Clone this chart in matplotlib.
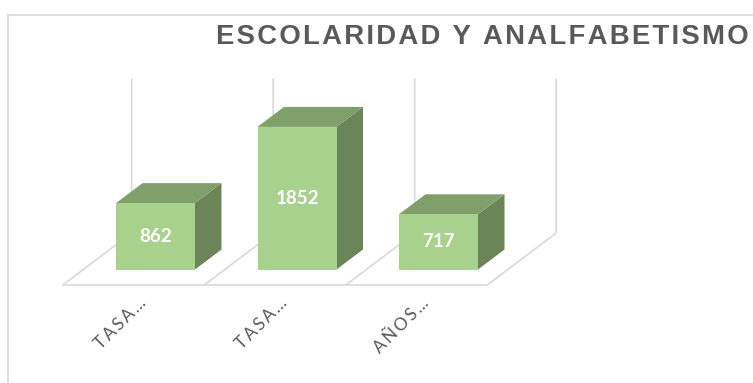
import matplotlib
matplotlib.use("Agg")
import matplotlib.pyplot as plt
from matplotlib.patches import Polygon

categories = ["TASA…", "TASA…", "AÑOS…"]
values = [862, 1852, 717]
y_max = 2000
title = "ESCOLARIDAD Y ANALFABETISMO"

W, H = 753, 383
LEFT, TOP = 8, 14.5  # chart frame position in pixels
X0_PX, STEP_PX = 155.5, 141.5  # first category centre, px per category
Y0_PX, VAL_PX = 269.5, 0.077  # baseline, px per value unit

# oblique projection: one bar depth moves this far in data units
DX = 26.5 / STEP_PX
DY = 20 / VAL_PX
BAR_W = 79 / STEP_PX
FLOOR_FRONT, FLOOR_BACK = -0.775, 1.825
HAIR = "\u200a"


def proj(x, v, d):
    return x + d * DX, v + d * DY


fig = plt.figure(figsize=(W / 100, H / 100), dpi=100)
ax = fig.add_axes([LEFT / W, 0, 1 - LEFT / W, 1 - TOP / H])
ax.set_xlim((LEFT - X0_PX) / STEP_PX, (W - X0_PX) / STEP_PX)
ax.set_ylim((Y0_PX - H) / VAL_PX, (Y0_PX - TOP) / VAL_PX)
ax.set_xticks([])
ax.set_yticks([])
for side in ["right", "bottom"]:
    ax.spines[side].set_visible(False)
for side in ["left", "top"]:
    ax.spines[side].set_color("#d9d9d9")
    ax.spines[side].set_linewidth(1.3)

# floor and back wall grid
grid = dict(color="#d9d9d9", lw=1.2, zorder=1, solid_capstyle="round")
n = len(values)
for b in [i - 0.51 for i in range(n + 1)]:
    x1, y1 = proj(b, 0, FLOOR_FRONT)
    x2, y2 = proj(b, 0, FLOOR_BACK)
    x3, y3 = proj(b, y_max, FLOOR_BACK)
    ax.plot([x1, x2, x3], [y1, y2, y3], **grid)
xa, ya = proj(-0.51, 0, FLOOR_FRONT)
xb, yb = proj(n - 0.51, 0, FLOOR_FRONT)
ax.plot([xa, xb], [ya, yb], **grid)

# bars
for i, v in enumerate(values):
    l, r = i - BAR_W / 2, i + BAR_W / 2
    front = [proj(l, 0, 0), proj(r, 0, 0), proj(r, v, 0), proj(l, v, 0)]
    top = [proj(l, v, 0), proj(r, v, 0), proj(r, v, 1), proj(l, v, 1)]
    side = [proj(r, 0, 0), proj(r, 0, 1), proj(r, v, 1), proj(r, v, 0)]
    ax.add_patch(Polygon(side, fc="#6b8559", ec="none", zorder=3))
    ax.add_patch(Polygon(top, fc="#7f9f6b", ec="none", zorder=3))
    ax.add_patch(Polygon(front, fc="#a9d18e", ec="none", zorder=4))
    ax.text(i, v / 2, str(v), color="white", fontsize=13.5, fontweight="bold",
            family="Lato", ha="center", va="center", zorder=5)
    # rotated category label, end of text near the bar centre
    ax.annotate((HAIR * 2).join(categories[i]), (i, 0), xytext=(-13, -18),
                textcoords="offset points", rotation=45, rotation_mode="anchor",
                ha="right", va="top", color="#595959", fontsize=12.5,
                family=["Lato", "DejaVu Sans"])

fig.text(216 / W, 1 - 36.5 / H, HAIR.join(title), color="#595959", fontsize=19.8,
         fontweight="bold", family=["Liberation Sans", "DejaVu Sans"], ha="left", va="center")

fig.savefig("out.png", dpi=100)
